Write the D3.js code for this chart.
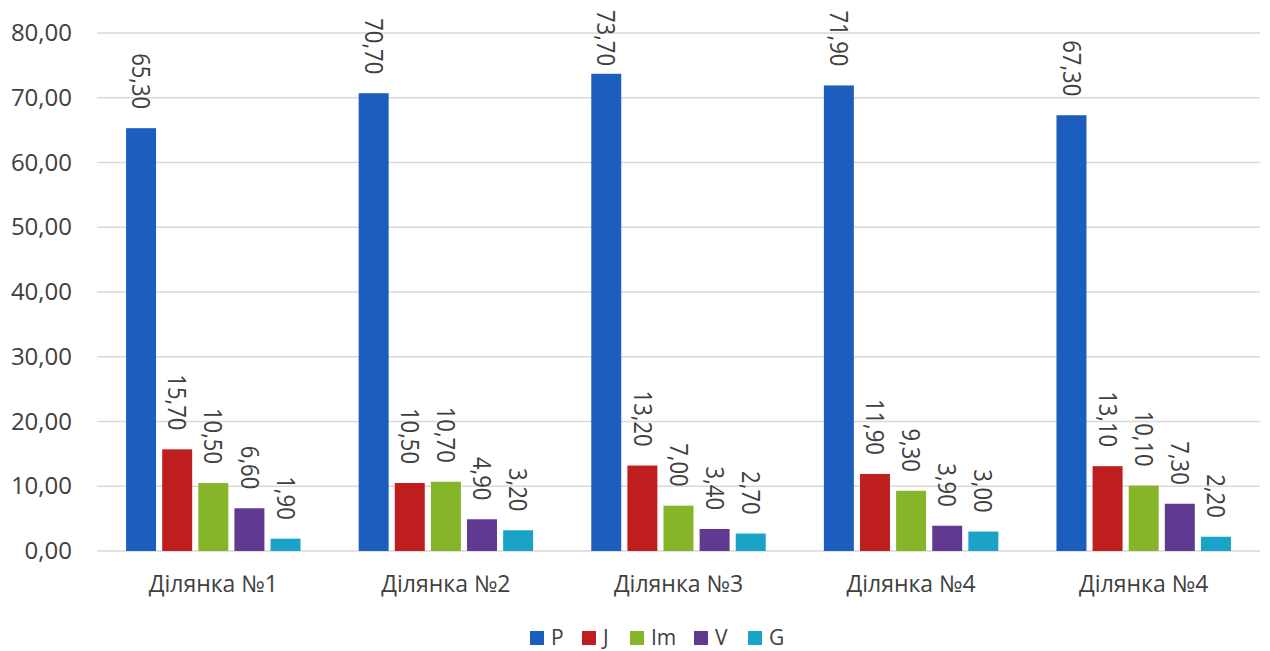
<!DOCTYPE html>
<html>
<head>
<meta charset="utf-8">
<script src="https://cdn.jsdelivr.net/npm/d3@7"></script>
<style>
  body { margin: 0; background: #fff; }
  text { font-family: "Open Sans", "Noto Sans", sans-serif; fill: #404040; }
</style>
</head>
<body>
<svg id="svg" width="1270" height="651"></svg>
<script>
// chart data
let categories = ['Ділянка №1', 'Ділянка №2', 'Ділянка №3', 'Ділянка №4', 'Ділянка №4'];
let seriesNames = ['P', 'J', 'Im', 'V', 'G'];
let valuesP = [65.3, 70.7, 73.7, 71.9, 67.3];
let valuesJ = [15.7, 10.5, 13.2, 11.9, 13.1];
let valuesIm = [10.5, 10.7, 7.0, 9.3, 10.1];
let valuesV = [6.6, 4.9, 3.4, 3.9, 7.3];
let valuesG = [1.9, 3.2, 2.7, 3.0, 2.2];
let yTicks = [0, 10, 20, 30, 40, 50, 60, 70, 80];

let colorSet = ['#1b5ebe', '#be1e1e', '#86b52a', '#5f3a90', '#1aa2c7'];
let allValues = [valuesP, valuesJ, valuesIm, valuesV, valuesG];

let margin = {top: 33, left: 97, right: 10};
let svgWidth = 1270;
let width = svgWidth - margin.left - margin.right;
let height = 551 - margin.top;

let svg = d3.select('#svg');
let g = svg.append('g').attr('transform', `translate(${margin.left},${margin.top})`);

let yScale = d3.scaleLinear().domain([0, 80]).range([height, 0]);
let xScale = d3.scaleBand()
  .domain(d3.range(categories.length))
  .range([0, width])
  .paddingInner(0.25)
  .paddingOuter(0.125);
let xSub = d3.scaleBand()
  .domain(seriesNames)
  .range([0, xScale.bandwidth()])
  .paddingInner(0.17);

let fmt = v => v.toFixed(2).replace('.', ',');

// gridlines
g.append('g')
  .selectAll('line')
  .data(yTicks)
  .enter()
  .append('line')
  .attr('x1', 0)
  .attr('x2', width)
  .attr('y1', d => yScale(d))
  .attr('y2', d => yScale(d))
  .attr('stroke', '#d9d9d9')
  .attr('stroke-width', 1.5);

// y axis labels
let yAxis = d3.axisLeft(yScale).tickValues(yTicks).tickFormat(fmt).tickSize(0).tickPadding(25);
let gY = g.append('g').call(yAxis);
gY.select('.domain').remove();
gY.selectAll('text')
  .style('font-size', '24px')
  .style('font-family', '"Open Sans", "Noto Sans", sans-serif')
  .attr('fill', '#404040');

// x axis labels
let gX = g.append('g').attr('transform', `translate(0,${height})`)
  .call(d3.axisBottom(xScale).tickFormat(i => categories[i]).tickSize(0).tickPadding(25));
gX.select('.domain').remove();
gX.selectAll('text')
  .style('font-size', '23px')
  .style('font-family', '"Open Sans", "Noto Sans", sans-serif')
  .attr('fill', '#404040');

// bars
seriesNames.forEach((name, si) => {
  let gs = g.append('g').attr('class', 'series-' + name);
  gs.selectAll('rect')
    .data(allValues[si])
    .enter()
    .append('rect')
    .attr('x', (d, i) => xScale(i) + xSub(name))
    .attr('y', d => yScale(d))
    .attr('width', xSub.bandwidth())
    .attr('height', d => height - yScale(d))
    .attr('fill', colorSet[si]);

  gs.selectAll('text')
    .data(allValues[si])
    .enter()
    .append('text')
    .attr('text-anchor', 'end')
    .attr('dy', '0.35em')
    .style('font-size', '22px')
    .text(d => fmt(d))
    .attr('transform', function(d, i) {
      let len = this.getComputedTextLength();
      let cx = xScale(i) + xSub(name) + xSub.bandwidth() / 2;
      // keep label inside the top of the chart area
      let cy = Math.max(yScale(d) - 19, 10 - margin.top + len);
      return `translate(${cx},${cy}) rotate(90) scale(1,1.15)`;
    });
});

// legend
let legend = svg.append('g').attr('transform', 'translate(0,638)');
let legendX = [530, 582, 630, 694, 748];
seriesNames.forEach((name, i) => {
  let item = legend.append('g').attr('transform', `translate(${legendX[i]},0)`);
  item.append('rect')
    .attr('x', 0).attr('y', -7)
    .attr('width', 14).attr('height', 14)
    .attr('fill', colorSet[i]);
  item.append('text')
    .attr('x', 21)
    .attr('dy', '0.35em')
    .style('font-size', '21px')
    .text(name);
});
</script>
</body>
</html>
